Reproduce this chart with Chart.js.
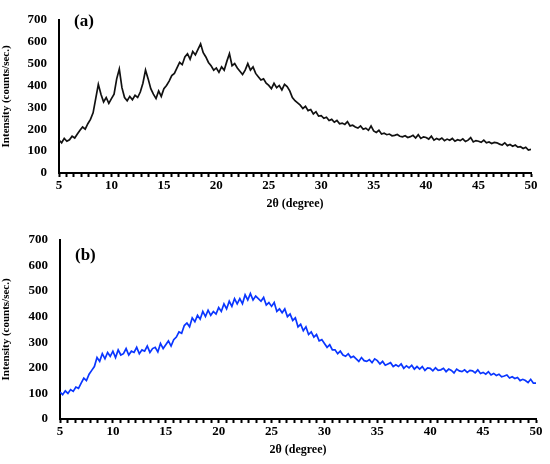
<!DOCTYPE html>
<html>
<head>
<meta charset="utf-8">
<title>XRD patterns</title>
<script src="https://cdn.jsdelivr.net/npm/chart.js@4.4.1/dist/chart.umd.min.js"></script>
<style>
  body{ margin:0; background:#fff; }
  #wrap{ position:relative; width:550px; height:464px; }
  canvas{ position:absolute; left:0; }
  .tag{
    position:absolute;
    font-family:"Liberation Serif", serif;
    font-weight:bold;
    font-size:17px;
    color:#000;
  }
</style>
</head>
<body>
<div id="wrap">
  <canvas id="chartA" width="550" height="215" style="top:0;width:550px;height:215px"></canvas>
  <canvas id="chartB" width="550" height="244" style="top:220px;width:550px;height:244px"></canvas>
  <div class="tag" style="left:74px;top:11px">(a)</div>
  <div class="tag" style="left:75px;top:245px">(b)</div>
</div>

<script>
// 2θ grid starts at 5° and steps 0.25° (one reading per step)
var angleStart = 5;
var angleStep = 0.25;

// panel (a), black pattern
var intensityA = [
  150,138,158,145, 152,168,160,178, 195,210,200,225, 245,275,340,405,
  360,325,345,318, 340,360,430,475, 390,345,330,350, 335,355,345,370,
  410,470,430,385, 360,340,375,350, 385,400,420,445, 455,480,505,495,
  530,545,520,555, 540,565,590,550, 530,505,490,470, 480,460,485,470,
  510,545,490,500, 480,465,450,470, 500,470,485,455, 440,425,430,410,
  400,385,410,390, 400,380,405,395, 375,345,330,320, 310,295,305,285,
  290,270,280,260, 262,250,255,240, 245,232,240,225, 228,222,235,215,
  218,210,205,215, 200,205,195,215, 192,185,195,178, 182,175,178,170,
  172,176,168,165, 170,162,166,172, 160,175,158,165, 162,155,168,150,
  158,152,160,148, 155,150,158,145, 152,148,156,144, 150,162,142,148,
  145,140,150,138, 142,135,140,138, 132,128,138,125, 130,122,128,118,
  120,112,118,105, 108
];

// panel (b), blue pattern
var intensityB = [
  105,95,110,100, 115,108,125,120, 140,160,150,175, 190,205,240,225,
  255,235,260,245, 265,240,270,250, 255,275,250,265, 260,280,255,270,
  265,285,260,275, 280,262,295,275, 290,305,285,310, 320,340,335,365,
  375,360,395,380, 405,390,420,400, 425,405,420,410, 435,420,450,430,
  460,440,470,450, 470,450,485,465, 490,465,480,470, 460,475,445,455,
  440,455,420,430, 415,430,400,410, 385,395,360,370, 345,360,330,340,
  320,330,305,310, 295,280,290,270, 270,255,265,250, 245,255,240,245,
  235,225,240,228, 225,232,220,235, 228,215,225,210, 215,220,205,212,
  205,215,198,208, 200,210,195,205, 195,205,190,200, 198,188,200,190,
  192,198,185,195, 190,180,195,188, 185,192,182,190, 188,180,192,178,
  182,175,185,172, 178,170,175,165, 168,172,160,165, 158,162,150,155,
  150,142,155,140, 140
];

var xTickLabels = [5, 10, 15, 20, 25, 30, 35, 40, 45, 50];
var yTickLabels = [0, 100, 200, 300, 400, 500, 600, 700];

var serif = "'Liberation Serif', 'Times New Roman', serif";

function toPoints(vals){
  var pts = [];
  for (var i = 0; i < vals.length; i++){
    pts.push({x: angleStart + i * angleStep, y: vals[i]});
  }
  return pts;
}

function makeChart(id, vals, color, box){
  new Chart(document.getElementById(id), {
    type: 'line',
    data: {
      datasets: [{
        data: toPoints(vals),
        borderColor: color,
        borderWidth: 1.7,
        pointRadius: 0,
        tension: 0
      }]
    },
    options: {
      responsive: false,
      animation: false,
      events: [],
      layout: { padding: { left: 0, right: box.right, top: box.top, bottom: box.bottom } },
      plugins: { legend: { display: false }, tooltip: { enabled: false } },
      scales: {
        x: {
          type: 'linear',
          min: 5,
          max: 50,
          afterFit: function(s){ s.height = box.xh; },
          // minor marks every 5/7 degree, labels only on multiples of 5
          afterBuildTicks: function(s){
            var t = [];
            for (var k = 0; k <= 63; k++) t.push({value: 5 + k * 5 / 7});
            s.ticks = t;
          },
          border: { display: true, color: '#000', width: 2 },
          grid: { display: true, drawOnChartArea: false, drawTicks: true, tickLength: 4, tickColor: '#000', tickWidth: 2 },
          ticks: {
            autoSkip: false,
            maxRotation: 0,
            padding: 1,
            color: '#000',
            font: { family: serif, size: 13, weight: 'bold' },
            callback: function(v){
              var r = Math.round(v);
              return (Math.abs(v - r) < 1e-6 && xTickLabels.indexOf(r) >= 0) ? String(r) : '';
            }
          },
          title: {
            display: true,
            text: '2θ (degree)',
            color: '#000',
            padding: { top: 0, bottom: 0 },
            font: { family: serif, size: 12, weight: 'bold' }
          }
        },
        y: {
          min: 0,
          max: 700,
          afterFit: function(s){ s.width = box.yw; },
          afterBuildTicks: function(s){ s.ticks = yTickLabels.map(function(v){ return {value: v}; }); },
          border: { display: true, color: '#000', width: 2 },
          grid: { display: false, drawTicks: false },
          ticks: {
            padding: 12,
            color: '#000',
            font: { family: serif, size: 13, weight: 'bold' }
          },
          title: {
            display: true,
            text: 'Intensity (counts/sec.)',
            color: '#000',
            padding: { top: 0, bottom: 2 },
            font: { family: serif, size: 11, weight: 'bold' }
          }
        }
      }
    }
  });
}

makeChart('chartA', intensityA, '#111111', { top: 12, right: 19, bottom: 4, xh: 38, yw: 59 });
makeChart('chartB', intensityB, '#0a36ff', { top: 14, right: 14, bottom: 7, xh: 38, yw: 60 });
</script>
</body>
</html>
